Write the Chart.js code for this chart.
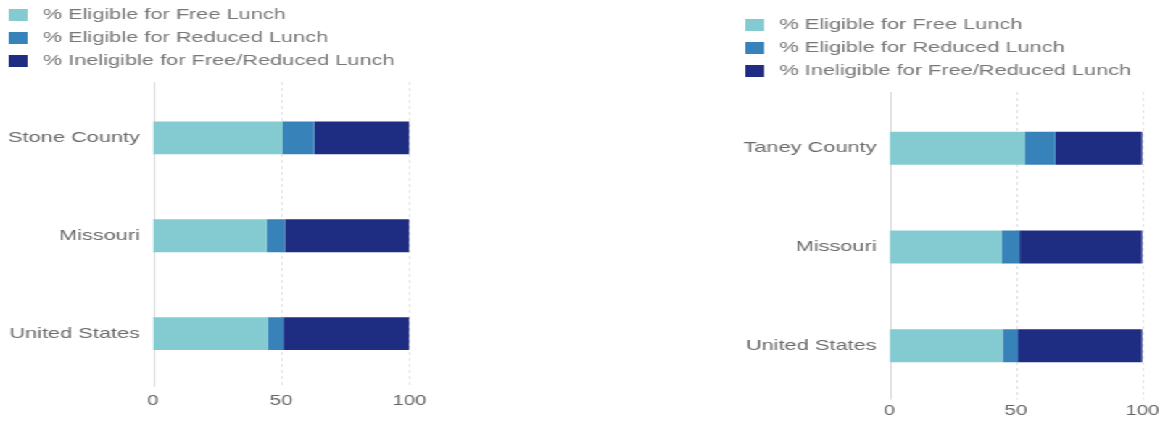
<!DOCTYPE html>
<html>
<head>
<meta charset="utf-8">
<script src="https://cdn.jsdelivr.net/npm/chart.js@4"></script>
<style>
  html, body { margin: 0; padding: 0; background: #fff; overflow: hidden; width: 1162px; height: 423px; }
  /* both panels are drawn at a narrower width and stretched horizontally */
  #stage { position: absolute; left: 0; top: 0; width: 801.4px; height: 423px; transform: scaleX(1.45); transform-origin: 0 0; }
  canvas { position: absolute; top: 0; }
</style>
</head>
<body>
<div id="stage">
  <canvas id="stoneChart" width="306" height="423" style="left:-1.8px"></canvas>
  <canvas id="taneyChart" width="301.5" height="423" style="left:505.8px"></canvas>
</div>
<script>
// Lunch eligibility shares (percent of students)
const seriesNames = ['% Eligible for Free Lunch', '% Eligible for Reduced Lunch', '% Ineligible for Free/Reduced Lunch'];

const stoneCategories = ['Stone County', 'Missouri', 'United States'];
const stoneFree       = [50.6, 44.3, 44.7];
const stoneReduced    = [12.3, 7.1, 6.1];
const stoneIneligible = [37.1, 48.6, 49.2];

const taneyCategories = ['Taney County', 'Missouri', 'United States'];
const taneyFree       = [53.6, 44.3, 44.7];
const taneyReduced    = [12.0, 7.1, 6.1];
const taneyIneligible = [34.4, 48.6, 49.2];

const xTicks = [0, 50, 100];

const palette = ['#84cbd1', '#3783b9', '#1e2c82'];

Chart.defaults.font.family = "'Liberation Sans', Arial, Helvetica, sans-serif";
Chart.defaults.animation = false;

// vertical reference lines at each x tick, running slightly past the plot area
const frameLines = {
  id: 'frameLines',
  beforeDatasetsDraw(chart, args, opts) {
    const { ctx, chartArea, scales: { x } } = chart;
    ctx.save();
    ctx.lineWidth = 1;
    x.ticks.forEach(t => {
      const px = Math.round(x.getPixelForValue(t.value)) + 0.5;
      if (t.value === x.min) {
        ctx.setLineDash([]);
        ctx.strokeStyle = '#d8d8d8';
      } else {
        ctx.setLineDash([3, 3]);
        ctx.strokeStyle = '#e2e2e2';
      }
      ctx.beginPath();
      ctx.moveTo(px, chartArea.top - opts.above);
      ctx.lineTo(px, chartArea.bottom + opts.below);
      ctx.stroke();
    });
    ctx.restore();
  }
};

// extra space between the legend and the plot
const legendGap = {
  id: 'legendGap',
  afterInit(chart, args, opts) {
    const legend = chart.legend;
    if (!legend) return;
    const fit = legend.fit;
    legend.fit = function () {
      fit.call(this);
      this.height += opts.gap;
    };
  }
};

function buildChart(canvasId, categories, free, reduced, ineligible, layout) {
  const values = [free, reduced, ineligible];
  return new Chart(document.getElementById(canvasId), {
    type: 'bar',
    data: {
      labels: categories,
      datasets: values.map((v, i) => ({
        label: seriesNames[i],
        data: v,
        backgroundColor: palette[i],
        borderWidth: 0,
        barPercentage: 0.335,
        categoryPercentage: 1
      }))
    },
    options: {
      indexAxis: 'y',
      responsive: false,
      layout: { padding: { top: layout.top, right: 0, bottom: layout.bottom, left: 0 } },
      scales: {
        x: {
          stacked: true,
          min: 0,
          max: 100,
          grid: { display: false, drawTicks: false },
          border: { display: false },
          ticks: { color: '#666', font: { size: 14 }, padding: layout.tickPad },
          afterBuildTicks(scale) { scale.ticks = xTicks.map(v => ({ value: v })); }
        },
        y: {
          stacked: true,
          grid: { display: false, drawTicks: false },
          border: { display: false },
          ticks: { color: '#6b6b6b', font: { size: 15 }, padding: 9 },
          afterFit(scale) { scale.width = 107.5; }
        }
      },
      plugins: {
        tooltip: { enabled: false },
        legend: {
          position: 'top',
          align: 'start',
          labels: {
            color: '#777',
            font: { size: 15 },
            boxWidth: 19,
            boxHeight: 18,
            padding: 5,
            generateLabels(chart) {
              return Chart.defaults.plugins.legend.labels.generateLabels(chart).map(item => ({
                ...item,
                strokeStyle: '#ffffff',
                lineWidth: 6
              }));
            }
          }
        },
        frameLines: { above: 7, below: 4.5 },
        legendGap: { gap: 9 }
      }
    },
    plugins: [legendGap, frameLines]
  });
}

buildChart('stoneChart', stoneCategories, stoneFree, stoneReduced, stoneIneligible,
  { top: 1, bottom: 3.7, tickPad: 10 });
buildChart('taneyChart', taneyCategories, taneyFree, taneyReduced, taneyIneligible,
  { top: 11, bottom: -3.8, tickPad: 7.5 });
</script>
</body>
</html>
